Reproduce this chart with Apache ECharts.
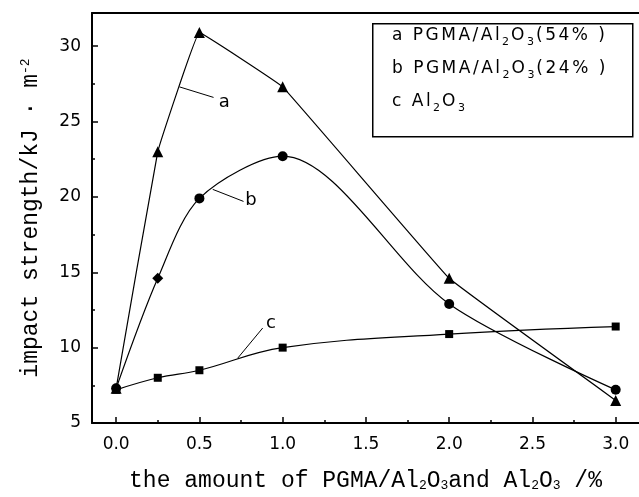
<!DOCTYPE html>
<html>
<head>
<meta charset="utf-8">
<script src="https://cdn.jsdelivr.net/npm/echarts@6/dist/echarts.min.js"></script>
<style>html,body{margin:0;padding:0;background:#fff}#c{width:639px;height:497px}</style>
</head>
<body>
<div id="c"></div>
<script>
// ---- data ----
var xValues = [0, 0.25, 0.5, 1.0, 2.0, 3.0];
var seriesA = [7.3, 23.0, 30.9, 27.3, 14.6, 6.5];   // a PGMA/Al2O3(54%)
var seriesB = [7.3, 14.6, 19.9, 22.7, 12.9, 7.2];   // b PGMA/Al2O3(24%)
var seriesC = [7.2, 8.0, 8.5, 10.0, 10.9, 11.4];    // c Al2O3
var xTickLabels = [0, 0.5, 1.0, 1.5, 2.0, 2.5, 3.0];
var xMinorTicks = [0.25, 0.75, 1.25, 1.75, 2.25, 2.75];
var yTickLabels = [5, 10, 15, 20, 25, 30];
var yMinorTicks = [7.5, 12.5, 17.5, 22.5, 27.5];
var legendLines = [
  [['a PGMA/Al', 'n'], ['2', 's'], ['O', 'n'], ['3', 's'], ['(54% )', 'n']],
  [['b PGMA/Al', 'n'], ['2', 's'], ['O', 'n'], ['3', 's'], ['(24% )', 'n']],
  [['c Al', 'n'], ['2', 's'], ['O', 'n'], ['3', 's']]
];
// annotation leaders (data coords): [from, to, labelPos, letter]
var annotA = [[0.38, 27.3], [0.585, 26.6], [0.65, 26.3], 'a'];
var annotB = [[0.58, 20.5], [0.765, 19.7], [0.81, 19.8], 'b'];
var annotC = [[0.73, 9.3], [0.88, 11.3], [0.93, 11.6], 'c'];

function pairs(ys) { return xValues.map(function (x, i) { return [x, ys[i]]; }); }

function spaced(segs) {
  var out = '';
  segs.forEach(function (s) {
    s[0].split('').forEach(function (ch) { out += '{' + s[1] + '|' + ch + '}'; });
  });
  return out;
}

function annot(a) {
  return {
    markLine: {
      silent: true, symbol: 'none', label: { show: false },
      lineStyle: { color: '#000', width: 1, type: 'solid' },
      data: [[{ coord: a[0] }, { coord: a[1] }]]
    },
    markPoint: {
      silent: true, symbol: 'circle', symbolSize: 0,
      label: { show: true, position: 'inside', formatter: a[3], color: '#000',
               fontFamily: 'DejaVu Sans', fontSize: 18 },
      data: [{ coord: a[2] }]
    }
  };
}

var chart = echarts.init(document.getElementById('c'), null, { renderer: 'canvas' });

var axisNameRich = {
  s: { fontFamily: 'Liberation Mono', fontSize: 13, verticalAlign: 'bottom', lineHeight: 13, color: '#000' },
  p: { fontFamily: 'Liberation Mono', fontSize: 13, verticalAlign: 'top', lineHeight: 13, color: '#000' }
};

var legendRich = {
  n: { fontFamily: 'DejaVu Sans', fontSize: 17, lineHeight: 24, padding: [0, 2.5, 0, 0], color: '#000' },
  s: { fontFamily: 'DejaVu Sans', fontSize: 11, lineHeight: 11, verticalAlign: 'bottom', padding: [0, 2, 0, 0], color: '#000' }
};

var sA = { name: 'a', type: 'line', data: pairs(seriesA), smooth: 0.05, symbol: 'triangle', symbolSize: 11,
  itemStyle: { color: '#000' }, lineStyle: { color: '#000', width: 1.2 } };
Object.assign(sA, annot(annotA));
var bData = pairs(seriesB).map(function (p, i) { return i === 1 ? { value: p, symbol: 'diamond', symbolSize: 11 } : p; });
var sB = { name: 'b', type: 'line', data: bData, smooth: 0.3, symbol: 'circle', symbolSize: 10,
  itemStyle: { color: '#000' }, lineStyle: { color: '#000', width: 1.2 } };
Object.assign(sB, annot(annotB));
var sC = { name: 'c', type: 'line', data: pairs(seriesC), smooth: 0.4, symbol: 'rect', symbolSize: 8,
  itemStyle: { color: '#000' }, lineStyle: { color: '#000', width: 1.2 } };
Object.assign(sC, annot(annotC));

chart.setOption({
  animation: false,
  backgroundColor: '#fff',
  grid: { left: 92, top: 13, right: 0, bottom: 72, containLabel: false },
  xAxis: [{
    type: 'value', min: -0.145, max: 3.14, position: 'bottom',
    axisLine: { show: true, onZero: false, lineStyle: { color: '#000', width: 2 } },
    axisTick: { show: true, inside: true, length: 6, customValues: xTickLabels, lineStyle: { color: '#000', width: 1.5 } },
    axisLabel: { show: true, customValues: xTickLabels, margin: 13, color: '#000', fontFamily: 'DejaVu Sans', fontSize: 17,
      formatter: function (v) { return v.toFixed(1); } },
    splitLine: { show: false },
    name: 'the amount of PGMA/Al{s|2}O{s|3}and Al{s|2}O{s|3} /%',
    nameLocation: 'middle', nameGap: 46,
    nameTextStyle: { fontFamily: 'Liberation Mono', fontSize: 23, color: '#000', rich: axisNameRich }
  }, {
    type: 'value', min: -0.145, max: 3.14, position: 'bottom', offset: 0,
    axisLine: { show: false, onZero: false },
    axisTick: { show: true, inside: true, length: 3, customValues: xMinorTicks, lineStyle: { color: '#000', width: 1.5 } },
    axisLabel: { show: false }, splitLine: { show: false }
  }, {
    type: 'value', min: -0.145, max: 3.14, position: 'top',
    axisLine: { show: true, onZero: false, lineStyle: { color: '#000', width: 2 } },
    axisTick: { show: false }, axisLabel: { show: false }, splitLine: { show: false }
  }],
  yAxis: [{
    type: 'value', min: 5, max: 32.2, position: 'left',
    axisLine: { show: true, onZero: false, lineStyle: { color: '#000', width: 2 } },
    axisTick: { show: true, inside: true, length: 6, customValues: yTickLabels, lineStyle: { color: '#000', width: 1.5 } },
    axisLabel: { show: true, customValues: yTickLabels, margin: 11, color: '#000', fontFamily: 'DejaVu Sans', fontSize: 17 },
    splitLine: { show: false },
    name: 'impact strength/kJ · m{p|-2}',
    nameLocation: 'middle', nameGap: 50, nameRotate: 90,
    nameTextStyle: { fontFamily: 'Liberation Mono', fontSize: 23, color: '#000', rich: axisNameRich }
  }, {
    type: 'value', min: 5, max: 32.2, position: 'left', offset: 0,
    axisLine: { show: false, onZero: false },
    axisTick: { show: true, inside: true, length: 3, customValues: yMinorTicks, lineStyle: { color: '#000', width: 1.5 } },
    axisLabel: { show: false }, splitLine: { show: false }
  }],
  series: [sA, sB, sC].map(function (s) { s.xAxisIndex = 0; s.yAxisIndex = 0; return s; }),
  graphic: [{
    type: 'rect', left: 372, top: 23, z: 10,
    shape: { width: 260, height: 113 },
    style: { fill: '#fff', stroke: '#000', lineWidth: 1.5 }
  }].concat(legendLines.map(function (segs, i) {
    return { type: 'text', left: 392, top: 27 + i * 33, z: 11,
      style: { text: spaced(segs), rich: legendRich, fill: '#000' } };
  }))
});
</script>
</body>
</html>
